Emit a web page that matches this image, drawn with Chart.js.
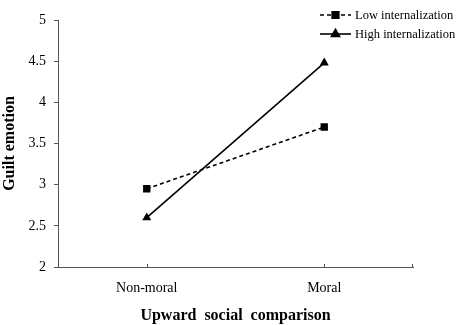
<!DOCTYPE html>
<html>
<head>
<meta charset="utf-8">
<script src="https://cdn.jsdelivr.net/npm/chart.js@4/dist/chart.umd.min.js"></script>
<style>
  html, body { margin: 0; padding: 0; background: #fff; }
  canvas { display: block; }
</style>
</head>
<body>
<canvas id="chart" width="459" height="325"></canvas>
<script>
// data
const categories = ["Non-moral", "Moral"];
const lowInternalization = [2.95, 3.7];
const highInternalization = [2.6, 4.48];
const yTicks = [2, 2.5, 3, 3.5, 4, 4.5, 5];

const SERIF = "'Liberation Serif', 'Times New Roman', serif";
const INK = "#000";
const AXIS = "#555";

// legend stacked at the top right, drawn from the dataset styles
const sideLegend = {
  id: "sideLegend",
  afterDraw(chart) {
    const ctx = chart.ctx;
    const rows = [15, 34];
    chart.data.datasets.forEach((ds, i) => {
      const y = rows[i];
      const x0 = 320, x1 = 351;
      ctx.save();
      ctx.strokeStyle = ds.borderColor;
      ctx.lineWidth = ds.borderWidth;
      ctx.setLineDash(ds.borderDash || []);
      ctx.beginPath();
      ctx.moveTo(x0, y);
      ctx.lineTo(x1, y);
      ctx.stroke();
      ctx.setLineDash([]);
      Chart.helpers.drawPoint(ctx, {
        pointStyle: ds.pointStyle,
        radius: ds.pointRadius - 0.5,
        borderWidth: 1,
        rotation: 0,
      }, (x0 + x1) / 2, y);
      ctx.fillStyle = INK;
      ctx.fill();
      ctx.font = "12.5px " + SERIF;
      ctx.textBaseline = "middle";
      ctx.fillText(ds.label, 355, y + 1);
      ctx.restore();
    });
  },
};

// small upward ticks on the category axis, as in the original
const xTickMarks = {
  id: "xTickMarks",
  afterDraw(chart) {
    const ctx = chart.ctx;
    const x = chart.scales.x;
    const y0 = chart.chartArea.bottom;
    ctx.save();
    ctx.strokeStyle = AXIS;
    ctx.lineWidth = 1;
    ctx.beginPath();
    categories.forEach((_, i) => {
      const px = Math.round(x.getPixelForValue(i)) + 0.5;
      ctx.moveTo(px, y0);
      ctx.lineTo(px, y0 - 3);
    });
    const end = Math.round(chart.chartArea.right) - 0.5;
    ctx.moveTo(end, y0);
    ctx.lineTo(end, y0 - 3);
    ctx.stroke();
    ctx.restore();
  },
};

new Chart(document.getElementById("chart"), {
  type: "line",
  data: {
    labels: categories,
    datasets: [
      {
        label: "Low internalization",
        data: lowInternalization,
        borderColor: INK,
        backgroundColor: INK,
        borderWidth: 1.6,
        borderDash: [4, 3],
        pointStyle: "rect",
        pointRadius: 5.2,
        pointBorderWidth: 0,
      },
      {
        label: "High internalization",
        data: highInternalization,
        borderColor: INK,
        backgroundColor: INK,
        borderWidth: 1.6,
        pointStyle: "triangle",
        pointRadius: 5.2,
        pointBorderWidth: 0,
      },
    ],
  },
  options: {
    responsive: false,
    animation: false,
    layout: { padding: { top: 20, right: 46, left: 0, bottom: 0 } },
    plugins: {
      legend: { display: false },
      tooltip: { enabled: false },
    },
    scales: {
      x: {
        offset: true,
        afterFit: s => { s.height = 58; },
        border: { color: AXIS, width: 1 },
        grid: { display: false },
        ticks: { color: INK, padding: 5, font: { family: SERIF, size: 14 } },
        title: {
          display: true,
          text: "Upward  social  comparison",
          color: INK,
          padding: { top: 0, bottom: 0 },
          font: { family: SERIF, size: 16, weight: "bold" },
        },
      },
      y: {
        min: 2,
        max: 5,
        afterFit: s => { s.width = 58; },
        afterBuildTicks: s => { s.ticks = yTicks.map(v => ({ value: v })); },
        border: { color: AXIS, width: 1 },
        grid: { drawOnChartArea: false, tickLength: 4, color: AXIS },
        ticks: {
          color: INK,
          padding: 8,
          font: { family: SERIF, size: 14 },
          callback: v => String(v),
        },
        title: {
          display: true,
          text: "Guilt emotion",
          color: INK,
          padding: { top: 0, bottom: 0 },
          font: { family: SERIF, size: 16, weight: "bold" },
        },
      },
    },
  },
  plugins: [sideLegend, xTickMarks],
});
</script>
</body>
</html>
